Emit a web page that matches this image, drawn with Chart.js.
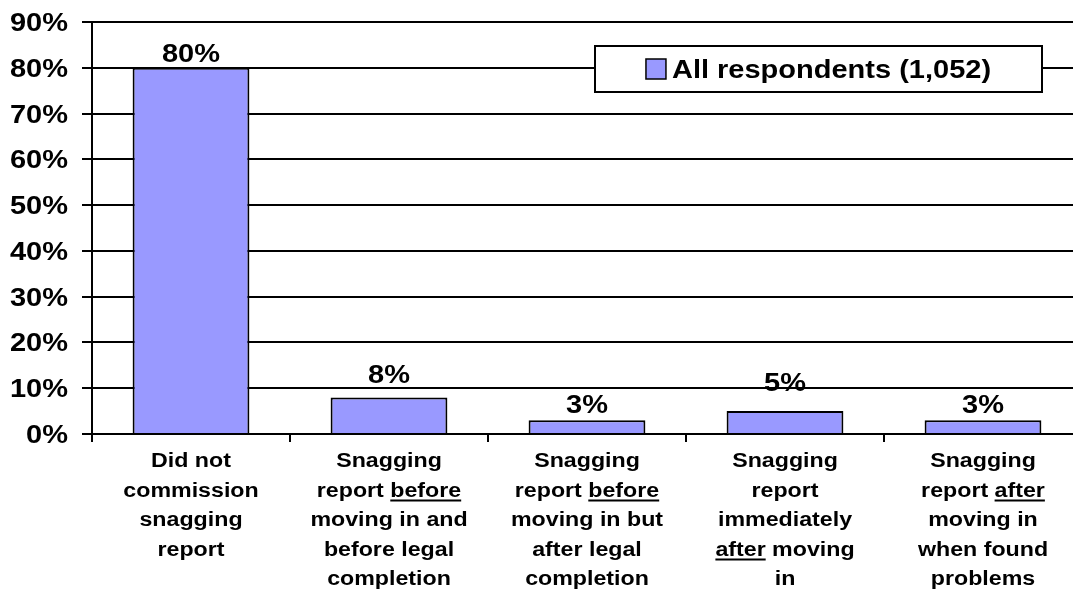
<!DOCTYPE html>
<html>
<head>
<meta charset="utf-8">
<script src="https://cdn.jsdelivr.net/npm/chart.js@4.4.1/dist/chart.umd.min.js"></script>
<style>
  html, body { margin: 0; padding: 0; background: #fff; overflow: hidden; }
  canvas { display: block; }
</style>
</head>
<body>
<canvas id="chart" width="1085" height="594"></canvas>
<script>
// category labels, one entry per line; _word_ marks underlined words
const categories = [
  ["Did not", "commission", "snagging", "report"],
  ["Snagging", "report _before_", "moving in and", "before legal", "completion"],
  ["Snagging", "report _before_", "moving in but", "after legal", "completion"],
  ["Snagging", "report", "immediately", "_after_ moving", "in"],
  ["Snagging", "report _after_", "moving in", "when found", "problems"],
];
const seriesName = "All respondents (1,052)";
const values = [80, 8, 3, 5, 3];
const yTickLabels = ["0%", "10%", "20%", "30%", "40%", "50%", "60%", "70%", "80%", "90%"];

const STRETCH = 1.16;
const FONT_BIG = 'bold 25px "Liberation Sans", Arial, sans-serif';
const FONT_CAT = 'bold 20px "Liberation Sans", Arial, sans-serif';

function wideWidth(ctx, text) {
  return ctx.measureText(text).width * STRETCH;
}

function drawWide(ctx, text, x, y, align) {
  const w = wideWidth(ctx, text);
  let left = x;
  if (align === "center") left = x - w / 2;
  if (align === "right") left = x - w;
  ctx.save();
  ctx.translate(left, y);
  ctx.scale(STRETCH, 1);
  ctx.textAlign = "left";
  ctx.textBaseline = "alphabetic";
  ctx.fillText(text, 0, 0);
  ctx.restore();
  return w;
}

const textPlugin = {
  id: "textPlugin",
  afterDraw(chart, args, opts) {
    const ctx = chart.ctx;
    const xs = chart.scales.x;
    const ys = chart.scales.y;
    const area = chart.chartArea;
    ctx.save();
    ctx.fillStyle = "#000";
    ctx.strokeStyle = "#000";

    // y tick labels
    ctx.font = FONT_BIG;
    ys.ticks.forEach((t, i) => {
      const y = ys.getPixelForValue(t.value);
      drawWide(ctx, yTickLabels[i] ?? `${t.value}%`, area.left - 24, y + 9, "right");
    });

    // value labels
    const meta = chart.getDatasetMeta(0);
    meta.data.forEach((bar, i) => {
      const lift = opts.lift[i] ?? 7;
      drawWide(ctx, `${values[i]}%`, bar.x, bar.y - lift, "center");
    });

    // category labels
    ctx.font = FONT_CAT;
    const lineH = 29.5;
    categories.forEach((lines, i) => {
      const cx = xs.getPixelForValue(i);
      lines.forEach((line, j) => {
        const y = area.bottom + 33 + j * lineH;
        const parts = line.split(/(_[^_]+_)/).filter((p) => p.length);
        const segs = parts.map((p) => {
          const under = p.startsWith("_") && p.endsWith("_");
          const txt = under ? p.slice(1, -1) : p;
          return { txt, under, w: wideWidth(ctx, txt) };
        });
        const total = segs.reduce((s, g) => s + g.w, 0);
        let x = cx - total / 2;
        segs.forEach((g) => {
          drawWide(ctx, g.txt, x, y, "left");
          if (g.under) {
            ctx.lineWidth = 2;
            ctx.beginPath();
            ctx.moveTo(x, y + 4);
            ctx.lineTo(x + g.w, y + 4);
            ctx.stroke();
          }
          x += g.w;
        });
      });
    });

    // legend box
    ctx.font = FONT_BIG;
    const box = { left: 595, top: 46, right: 1042, bottom: 92 };
    ctx.fillStyle = "#fff";
    ctx.fillRect(box.left, box.top, box.right - box.left, box.bottom - box.top);
    ctx.lineWidth = 2;
    ctx.strokeRect(box.left, box.top, box.right - box.left, box.bottom - box.top);
    const ds = chart.data.datasets[0];
    const sw = 20;
    const gap = 6;
    const tw = wideWidth(ctx, ds.label);
    const startX = (box.left + box.right) / 2 - (sw + gap + tw) / 2;
    const midY = (box.top + box.bottom) / 2;
    ctx.fillStyle = ds.backgroundColor;
    ctx.fillRect(startX, midY - sw / 2, sw, sw);
    ctx.lineWidth = 1.5;
    ctx.strokeRect(startX, midY - sw / 2, sw, sw);
    ctx.fillStyle = "#000";
    drawWide(ctx, ds.label, startX + sw + gap, midY + 9, "left");

    ctx.restore();
  },
};

const ctx = document.getElementById("chart").getContext("2d");
new Chart(ctx, {
  type: "bar",
  data: {
    labels: categories.map((c) => c.join(" ").replace(/_/g, "")),
    datasets: [
      {
        label: seriesName,
        data: values,
        backgroundColor: "#9999FF",
        borderColor: "#000",
        borderWidth: 2,
        barPercentage: 0.59,
        categoryPercentage: 1,
      },
    ],
  },
  options: {
    responsive: false,
    animation: false,
    layout: {
      padding: { top: 22, right: 3, left: 0, bottom: 0 },
    },
    plugins: {
      legend: { display: false },
      tooltip: { enabled: false },
      textPlugin: {
        lift: [6, 14, 7, 20, 7],
      },
    },
    scales: {
      x: {
        grid: {
          offset: true,
          drawOnChartArea: false,
          color: "#000",
          lineWidth: 2,
          tickLength: 8,
        },
        border: { color: "#000", width: 2 },
        ticks: { display: false },
        afterFit: (scale) => {
          scale.height = 160;
        },
      },
      y: {
        min: 0,
        max: 90,
        ticks: { stepSize: 10, display: false },
        grid: {
          color: "#000",
          lineWidth: 2,
          tickLength: 10,
        },
        border: { color: "#000", width: 2 },
        afterFit: (scale) => {
          scale.width = 92;
        },
      },
    },
  },
  plugins: [textPlugin],
});
</script>
</body>
</html>
